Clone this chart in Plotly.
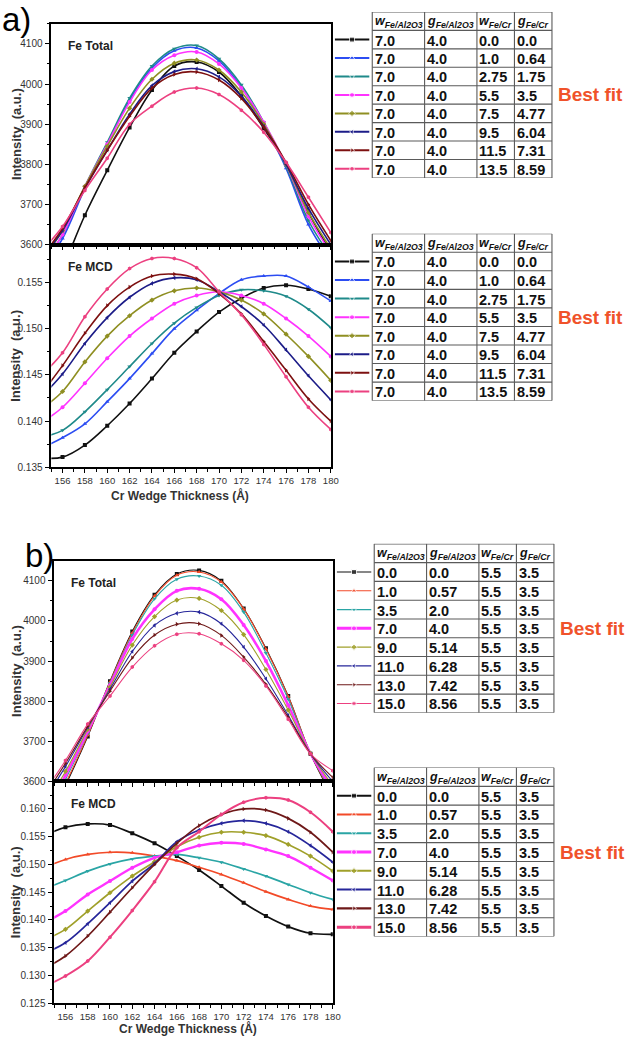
import plotly.graph_objects as go

W, H = 636, 1042

# ---------------- data ----------------
x_pts = [154, 156, 158, 160, 162, 164, 166, 168, 170, 172, 174, 176, 178, 180]

# panel a) parameters (table)
a_w_al = ["7.0", "7.0", "7.0", "7.0", "7.0", "7.0", "7.0", "7.0"]
a_g_al = ["4.0", "4.0", "4.0", "4.0", "4.0", "4.0", "4.0", "4.0"]
a_w_cr = ["0.0", "1.0", "2.75", "5.5", "7.5", "9.5", "11.5", "13.5"]
a_g_cr = ["0.0", "0.64", "1.75", "3.5", "4.77", "6.04", "7.31", "8.59"]

# panel b) parameters (table)
b_w_al = ["0.0", "1.0", "3.5", "7.0", "9.0", "11.0", "13.0", "15.0"]
b_g_al = ["0.0", "0.57", "2.0", "4.0", "5.14", "6.28", "7.42", "8.56"]
b_w_cr = ["5.5", "5.5", "5.5", "5.5", "5.5", "5.5", "5.5", "5.5"]
b_g_cr = ["3.5", "3.5", "3.5", "3.5", "3.5", "3.5", "3.5", "3.5"]

# a) Fe Total
a_tot_s1 = [3420, 3540, 3673, 3785, 3892, 3985, 4045, 4055, 4030, 3970, 3890, 3800, 3680, 3580]
a_tot_s2 = [3535, 3615, 3740, 3850, 3960, 4040, 4083, 4090, 4058, 3992, 3900, 3790, 3650, 3560]
a_tot_s3 = [3540, 3625, 3745, 3855, 3965, 4045, 4088, 4096, 4063, 3998, 3905, 3795, 3660, 3570]
a_tot_s4 = [3545, 3625, 3745, 3850, 3955, 4035, 4072, 4080, 4050, 3990, 3905, 3800, 3670, 3580]
a_tot_s5 = [3555, 3635, 3745, 3845, 3940, 4012, 4052, 4060, 4035, 3980, 3900, 3800, 3680, 3590]
a_tot_s6 = [3560, 3635, 3740, 3835, 3925, 3996, 4031, 4038, 4018, 3970, 3895, 3800, 3690, 3600]
a_tot_s7 = [3565, 3640, 3742, 3835, 3920, 3990, 4024, 4030, 4010, 3964, 3893, 3805, 3700, 3610]
a_tot_s8 = [3580, 3645, 3735, 3815, 3900, 3945, 3980, 3990, 3974, 3935, 3880, 3805, 3718, 3630]

# a) Fe MCD
a_mcd_s1 = [0.1360, 0.1361, 0.1374, 0.1395, 0.1419, 0.1446, 0.1474, 0.1497, 0.1518, 0.1533, 0.1544, 0.1547, 0.1543, 0.1535]
a_mcd_s2 = [0.1370, 0.1382, 0.1397, 0.1421, 0.1446, 0.1473, 0.1500, 0.1520, 0.1538, 0.1553, 0.1557, 0.1557, 0.1545, 0.1530]
a_mcd_s3 = [0.1382, 0.1390, 0.1410, 0.1434, 0.1459, 0.1484, 0.1506, 0.1523, 0.1536, 0.1542, 0.1541, 0.1535, 0.1521, 0.1501]
a_mcd_s4 = [0.1397, 0.1415, 0.1441, 0.1468, 0.1492, 0.1511, 0.1527, 0.1536, 0.1540, 0.1536, 0.1527, 0.1511, 0.1492, 0.1470]
a_mcd_s5 = [0.1412, 0.1432, 0.1464, 0.1492, 0.1514, 0.1531, 0.1541, 0.1544, 0.1540, 0.1531, 0.1516, 0.1494, 0.1470, 0.1444]
a_mcd_s6 = [0.1425, 0.1451, 0.1484, 0.1512, 0.1534, 0.1549, 0.1555, 0.1553, 0.1540, 0.1524, 0.1504, 0.1477, 0.1449, 0.1423]
a_mcd_s7 = [0.1428, 0.1460, 0.1495, 0.1525, 0.1545, 0.1557, 0.1559, 0.1554, 0.1538, 0.1516, 0.1486, 0.1455, 0.1424, 0.1400]
a_mcd_s8 = [0.1448, 0.1474, 0.1513, 0.1543, 0.1565, 0.1576, 0.1576, 0.1566, 0.1540, 0.1515, 0.1483, 0.1448, 0.1415, 0.1391]

# b) Fe Total
b_tot_s1 = [3480, 3590, 3712, 3850, 3974, 4065, 4117, 4126, 4100, 4031, 3932, 3813, 3669, 3560]
b_tot_s2 = [3490, 3595, 3715, 3848, 3970, 4062, 4114, 4122, 4097, 4030, 3930, 3812, 3670, 3565]
b_tot_s3 = [3500, 3605, 3720, 3845, 3965, 4055, 4104, 4112, 4089, 4022, 3920, 3805, 3670, 3570]
b_tot_s4 = [3520, 3615, 3725, 3840, 3955, 4029, 4075, 4080, 4054, 3990, 3900, 3790, 3670, 3580]
b_tot_s5 = [3535, 3625, 3730, 3835, 3940, 4011, 4052, 4056, 4026, 3966, 3879, 3778, 3670, 3590]
b_tot_s6 = [3550, 3637, 3735, 3830, 3924, 3989, 4019, 4022, 3993, 3935, 3856, 3765, 3669, 3600]
b_tot_s7 = [3560, 3645, 3738, 3825, 3908, 3965, 3992, 3993, 3964, 3910, 3842, 3760, 3669, 3610]
b_tot_s8 = [3570, 3652, 3743, 3813, 3885, 3938, 3967, 3968, 3943, 3902, 3838, 3755, 3669, 3627]

# b) Fe MCD
b_mcd_s1 = [0.1551, 0.1567, 0.1573, 0.1571, 0.1556, 0.1538, 0.1515, 0.1490, 0.1461, 0.1431, 0.1407, 0.1388, 0.1376, 0.1374]
b_mcd_s2 = [0.1493, 0.1509, 0.1518, 0.1522, 0.1521, 0.1515, 0.1507, 0.1495, 0.1482, 0.1467, 0.1451, 0.1437, 0.1425, 0.1419]
b_mcd_s3 = [0.1455, 0.1471, 0.1488, 0.1501, 0.1510, 0.1515, 0.1518, 0.1512, 0.1504, 0.1492, 0.1479, 0.1464, 0.1449, 0.1437]
b_mcd_s4 = [0.1394, 0.1416, 0.1446, 0.1470, 0.1494, 0.1512, 0.1522, 0.1534, 0.1539, 0.1537, 0.1527, 0.1515, 0.1494, 0.1471]
b_mcd_s5 = [0.1363, 0.1383, 0.1416, 0.1449, 0.1479, 0.1505, 0.1532, 0.1549, 0.1558, 0.1558, 0.1552, 0.1536, 0.1515, 0.1488]
b_mcd_s6 = [0.1339, 0.1359, 0.1393, 0.1431, 0.1470, 0.1502, 0.1541, 0.1562, 0.1574, 0.1579, 0.1574, 0.1559, 0.1534, 0.1504]
b_mcd_s7 = [0.1311, 0.1335, 0.1371, 0.1414, 0.1458, 0.1500, 0.1538, 0.1570, 0.1590, 0.1600, 0.1598, 0.1583, 0.1558, 0.1522]
b_mcd_s8 = [0.1279, 0.1299, 0.1326, 0.1369, 0.1417, 0.1469, 0.1530, 0.1559, 0.1590, 0.1612, 0.1620, 0.1616, 0.1594, 0.1559]

header_labels = ["<b><i>w</i></b><sub><b><i>Fe/Al2O3</i></b></sub>",
                 "<b><i>g</i></b><sub><b><i>Fe/Al2O3</i></b></sub>",
                 "<b><i>w</i></b><sub><b><i>Fe/Cr</i></b></sub>",
                 "<b><i>g</i></b><sub><b><i>Fe/Cr</i></b></sub>"]

# ---------------- styles ----------------
a_colors = ["#111111", "#2c4df2", "#1f8a8a", "#ff33ff", "#8f8f22", "#1c1c88", "#7d1010", "#ec4080"]
b_colors = ["#111111", "#f24a28", "#2aa5a5", "#ff33ff", "#a0a02a", "#26269a", "#6e1818", "#ec4080"]
symbols = ["square", "triangle-up", "triangle-down", "circle", "diamond", "triangle-left", "triangle-right", "hexagon"]

PLOT_FONT = "Liberation Sans, Arial, sans-serif"
TABLE_FONT = "Liberation Sans, Arial, sans-serif"


def fx(p):
    return p / W


def fy(p):
    return 1 - p / H


def aid(letter, n):
    return letter if n == 1 else f"{letter}{n}"


panels = [
    dict(series=[a_tot_s1, a_tot_s2, a_tot_s3, a_tot_s4, a_tot_s5, a_tot_s6, a_tot_s7, a_tot_s8],
         colors=a_colors, widths=[1.6] * 8, xpx=(52, 335), ypx=(24, 246),
         yrange=[3600, 4150], dtick=100, tick0=3600, fmt="d", label="Fe Total", xlabels=False,
         table=[a_w_al, a_g_al, a_w_cr, a_g_cr], tleft=377, ttop=12, tbot=179, lwidths=[2.0] * 8),
    dict(series=[a_mcd_s1, a_mcd_s2, a_mcd_s3, a_mcd_s4, a_mcd_s5, a_mcd_s6, a_mcd_s7, a_mcd_s8],
         colors=a_colors, widths=[1.6] * 8, xpx=(52, 335), ypx=(246, 470),
         yrange=[0.135, 0.1591], dtick=0.005, tick0=0.135, fmt=".3f", label="Fe MCD", xlabels=True,
         table=[a_w_al, a_g_al, a_w_cr, a_g_cr], tleft=377, ttop=235, tbot=403, lwidths=[2.0] * 8,
         xtitle_px=(182, 498)),
    dict(series=[b_tot_s1, b_tot_s2, b_tot_s3, b_tot_s4, b_tot_s5, b_tot_s6, b_tot_s7, b_tot_s8],
         colors=b_colors, widths=[1.1, 1.1, 1.1, 2.6, 1.1, 1.1, 1.1, 1.1], xpx=(55, 337), ypx=(564, 786),
         yrange=[3600, 4150], dtick=100, tick0=3600, fmt="d", label="Fe Total", xlabels=False,
         table=[b_w_al, b_g_al, b_w_cr, b_g_cr], tleft=379, ttop=547, tbot=717,
         lwidths=[1.1, 1.1, 1.1, 3.0, 1.1, 1.1, 1.1, 1.1]),
    dict(series=[b_mcd_s1, b_mcd_s2, b_mcd_s3, b_mcd_s4, b_mcd_s5, b_mcd_s6, b_mcd_s7, b_mcd_s8],
         colors=b_colors, widths=[1.7, 1.7, 1.7, 2.4, 1.7, 1.7, 1.7, 2.0], xpx=(55, 337), ypx=(786, 1009),
         yrange=[0.125, 0.16495], dtick=0.005, tick0=0.125, fmt=".3f", label="Fe MCD", xlabels=True,
         table=[b_w_al, b_g_al, b_w_cr, b_g_cr], tleft=379, ttop=772, tbot=942,
         lwidths=[2.0, 2.0, 2.0, 3.0, 2.0, 2.0, 2.2, 3.0],
         xtitle_px=(190, 1034)),
]

col_widths = [53, 53, 38, 38]
col_edges = [0]
for w_ in col_widths:
    col_edges.append(col_edges[-1] + w_)
TW = col_edges[-1]
LEG0, LEG1 = -38, -3
EXTRA = 74  # room to the right of the table for the "Best fit" note

fig = go.Figure()
layout = dict(width=W, height=H, margin=dict(l=0, r=0, t=0, b=0),
              paper_bgcolor="white", plot_bgcolor="white", showlegend=False)
annotations = []
shapes = []

for i, p in enumerate(panels):
    n = i + 1
    xa, ya = aid("x", n), aid("y", n)
    xdom = [fx(p["xpx"][0]), fx(p["xpx"][1])]
    ydom = [fy(p["ypx"][1]), fy(p["ypx"][0])]

    for k, (vals, col) in enumerate(zip(p["series"], p["colors"])):
        fig.add_trace(go.Scatter(
            x=x_pts, y=vals, xaxis=xa, yaxis=ya, mode="lines+markers",
            line=dict(color=col, width=p["widths"][k], shape="spline", smoothing=1.0),
            marker=dict(color=col, size=4, symbol=symbols[k]),
            hoverinfo="skip"))

    common = dict(showline=True, linecolor="black", linewidth=1.6, mirror=True,
                  ticks="outside", tickwidth=1.2, tickcolor="black",
                  showgrid=False, zeroline=False)
    layout[f"xaxis{n}"] = dict(domain=xdom, range=[155, 180], anchor=ya, tick0=156, dtick=2, ticklen=4,
                               minor=dict(ticks="outside", ticklen=3, dtick=1, tick0=155, tickcolor="black"),
                               showticklabels=p["xlabels"],
                               tickfont=dict(family=PLOT_FONT, size=9.5, color="#333333"), **common)
    layout[f"yaxis{n}"] = dict(domain=ydom, range=p["yrange"], anchor=xa, tick0=p["tick0"], dtick=p["dtick"],
                               tickformat=p["fmt"], ticklen=5,
                               minor=dict(ticks="outside", ticklen=3, dtick=p["dtick"] / 2, tick0=p["tick0"],
                                          tickcolor="black"),
                               tickfont=dict(family=PLOT_FONT, size=10, color="#333333"), **common)
    # inside ticks on top / right
    layout[f"xaxis{n + 4}"] = dict(overlaying=xa, side="top", anchor=ya, range=[155, 180], tick0=156, dtick=2,
                                   ticks="inside", ticklen=5, tickwidth=1.2, tickcolor="black",
                                   minor=dict(ticks="inside", ticklen=3, dtick=1, tick0=155, tickcolor="black"),
                                   showticklabels=False, showline=False, showgrid=False, zeroline=False)
    layout[f"yaxis{n + 4}"] = dict(overlaying=ya, side="right", anchor=xa, range=p["yrange"],
                                   tick0=p["tick0"], dtick=p["dtick"],
                                   ticks="inside", ticklen=5, tickwidth=1.2, tickcolor="black",
                                   minor=dict(ticks="inside", ticklen=3, dtick=p["dtick"] / 2, tick0=p["tick0"],
                                              tickcolor="black"),
                                   showticklabels=False, showline=False, showgrid=False, zeroline=False)

    # panel label
    annotations.append(dict(text=f"<b>{p['label']}</b>", xref=f"{xa} domain", yref=f"{ya} domain",
                            x=0.052, y=0.90, xanchor="left", yanchor="middle", showarrow=False,
                            font=dict(family=PLOT_FONT, size=12, color="#222222")))
    # y title
    annotations.append(dict(text="<b>Intensity  (a.u.)</b>", xref="paper", yref=f"{ya} domain",
                            x=fx(16), y=0.5, xanchor="center", yanchor="middle", textangle=-90,
                            showarrow=False, font=dict(family=PLOT_FONT, size=13, color="#333333")))
    if p["xlabels"]:
        annotations.append(dict(text="<b>Cr Wedge Thickness (Å)</b>", xref="paper", yref="paper",
                                x=fx(p["xtitle_px"][0]), y=fy(p["xtitle_px"][1]), xanchor="center",
                                yanchor="middle", showarrow=False,
                                font=dict(family=PLOT_FONT, size=12, color="#333333")))

    # ---------- table with legend samples ----------
    tn = n + 8
    txa, tya = aid("x", tn), aid("y", tn)
    nrows = len(p["table"][0])
    layout[f"xaxis{tn}"] = dict(domain=[fx(p["tleft"] + LEG0), min(1.0, fx(p["tleft"] + TW + EXTRA))],
                                range=[LEG0, TW + EXTRA], anchor=tya, visible=False, fixedrange=True)
    layout[f"yaxis{tn}"] = dict(domain=[fy(p["tbot"]), fy(p["ttop"])], range=[nrows + 1, 0],
                                anchor=txa, visible=False, fixedrange=True)
    for r in range(nrows + 2):
        shapes.append(dict(type="line", xref=txa, yref=tya, x0=0, x1=TW, y0=r, y1=r,
                           line=dict(color="#5a5a5a", width=1.1)))
    for e in col_edges:
        shapes.append(dict(type="line", xref=txa, yref=tya, x0=e, x1=e, y0=0, y1=nrows + 1,
                           line=dict(color="#5a5a5a", width=1.1)))
    for c, h in enumerate(header_labels):
        annotations.append(dict(text=h, xref=txa, yref=tya, x=col_edges[c] + 0.3, y=0.55,
                                xanchor="left", yanchor="middle", showarrow=False,
                                font=dict(family=TABLE_FONT, size=12.5, color="#111111")))
    for c, col_vals in enumerate(p["table"]):
        for r, v in enumerate(col_vals):
            annotations.append(dict(text=f"<b>{v}</b>", xref=txa, yref=tya, x=col_edges[c] + 0.3,
                                    y=r + 1.55, xanchor="left", yanchor="middle", showarrow=False,
                                    font=dict(family=TABLE_FONT, size=14.5, color="#111111")))
    for k, col in enumerate(p["colors"]):
        fig.add_trace(go.Scatter(
            x=[LEG0, (LEG0 + LEG1) / 2, LEG1], y=[k + 1.5] * 3, xaxis=txa, yaxis=tya,
            mode="lines+markers", line=dict(color=col, width=p["lwidths"][k]),
            marker=dict(color=col, size=[0, 5, 0], symbol=symbols[k]), hoverinfo="skip",
            cliponaxis=False))
    annotations.append(dict(text="<b>Best fit</b>", xref=txa, yref=tya, x=TW + 4, y=4.5,
                            xanchor="left", yanchor="middle", showarrow=False,
                            font=dict(family=PLOT_FONT, size=19, color="#f0522a")))

# a) / b) labels
annotations.append(dict(text="a)", xref="paper", yref="paper", x=fx(0), y=fy(19.5), xanchor="left",
                        yanchor="middle", showarrow=False, font=dict(family=PLOT_FONT, size=33, color="black")))
annotations.append(dict(text="b)", xref="paper", yref="paper", x=fx(23), y=fy(558.5), xanchor="left",
                        yanchor="middle", showarrow=False, font=dict(family=PLOT_FONT, size=33, color="black")))

layout["annotations"] = annotations
layout["shapes"] = shapes
fig.update_layout(**layout)
fig.write_html("out.html")
